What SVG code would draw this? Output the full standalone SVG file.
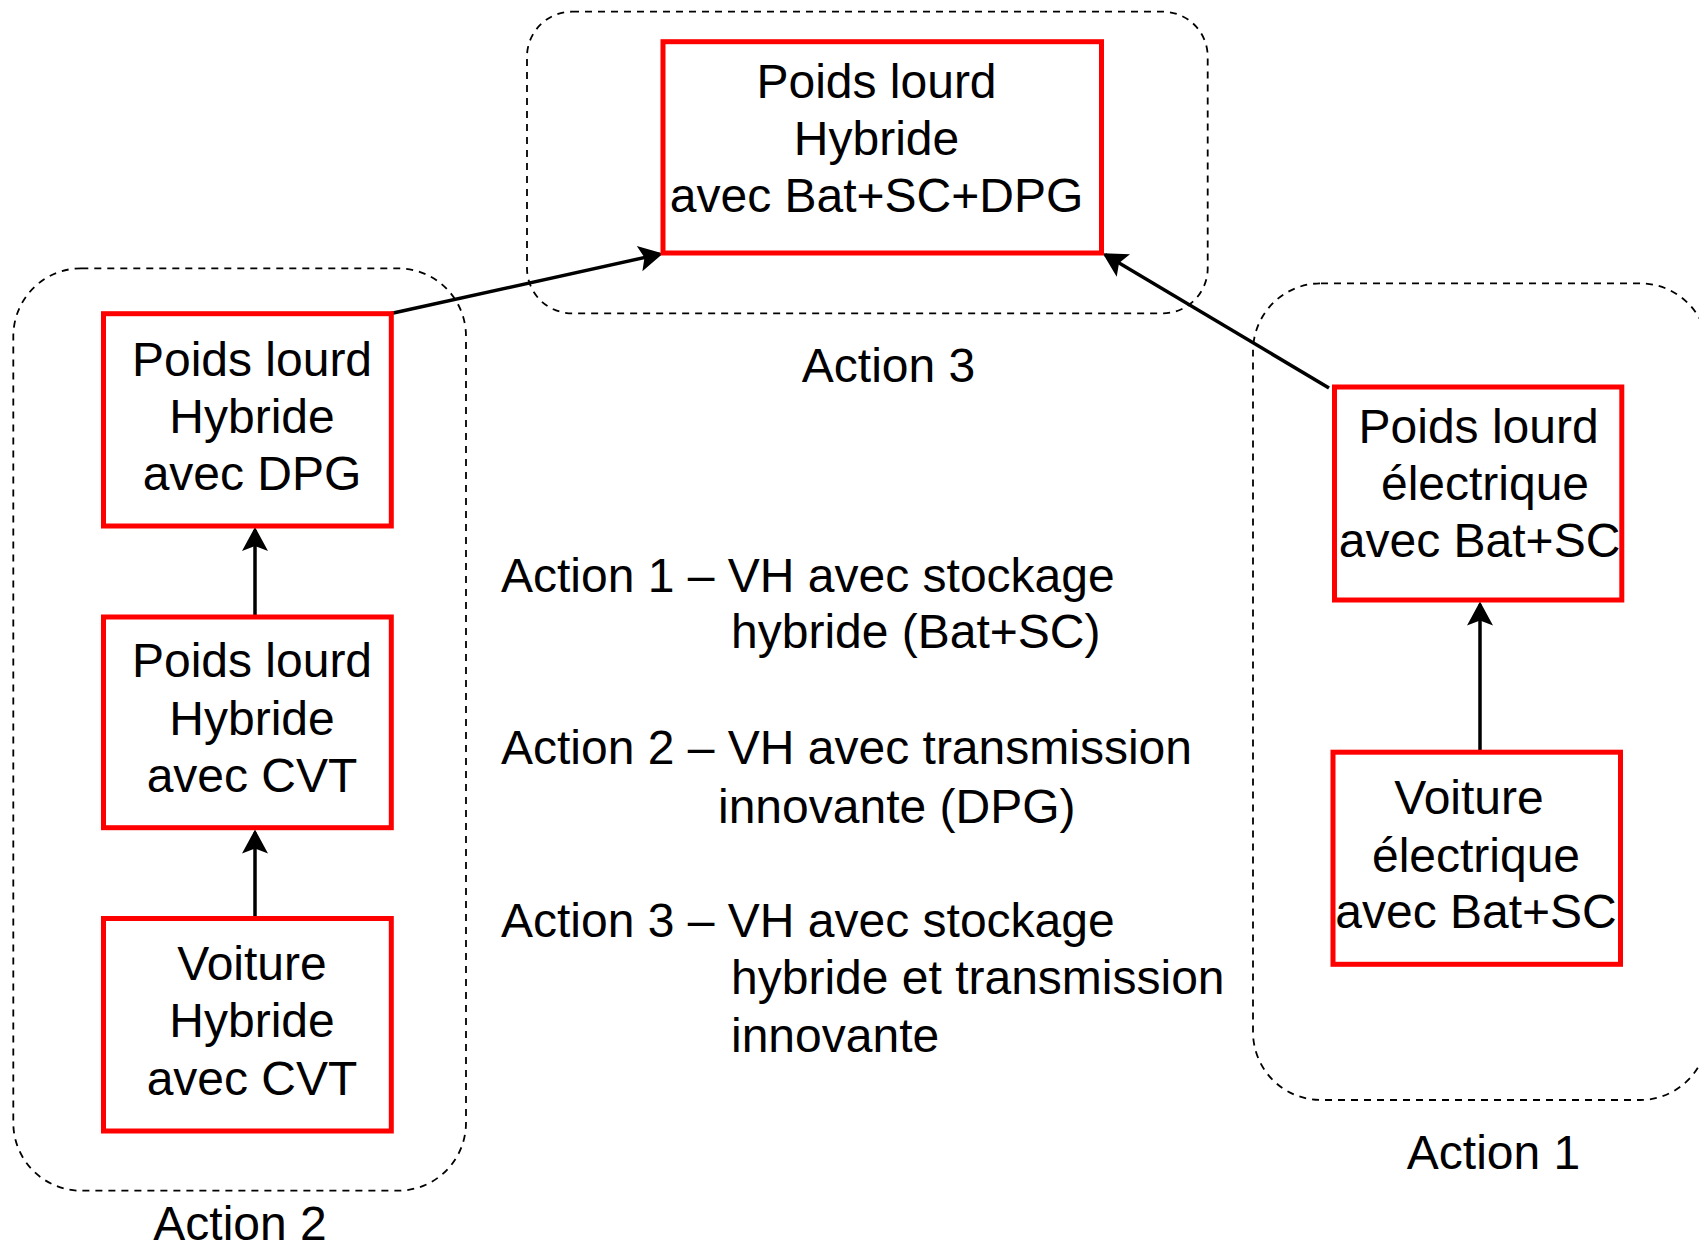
<svg xmlns="http://www.w3.org/2000/svg" width="1699" height="1249" viewBox="0 0 1699 1249">
  <style>
    text { font-family: "Liberation Sans", Arial, sans-serif; font-size: 48px; fill: #000; }
    .c { text-anchor: middle; }
    .grp { fill: none; stroke: #000; stroke-width: 1.8; stroke-dasharray: 7 6; }
    .node { fill: #fff; stroke: #ff0000; stroke-width: 5; }
    .edge { fill: none; stroke: #000; stroke-width: 3.5; marker-end: url(#arr); }
  </style>
  <defs>
    <marker id="arr" markerUnits="userSpaceOnUse" orient="auto" refX="0" refY="0" markerWidth="40" markerHeight="40" viewBox="-30 -20 40 40" overflow="visible">
      <path d="M3,0 L-21,-13 L-16,0 L-21,13 Z" fill="#000"/>
    </marker>
  </defs>
  <rect width="1699" height="1249" fill="#fff"/>

  <g id="group-action3">
    <rect class="grp" x="527" y="11.7" width="680.7" height="301.6" rx="45" ry="45"/>
    <text class="c" x="888.5" y="382">Action 3</text>
  </g>
  <g id="group-action2">
    <rect class="grp" x="13.3" y="268.3" width="452.7" height="922.4" rx="68" ry="68"/>
    <text class="c" x="240" y="1240">Action 2</text>
  </g>
  <g id="group-action1">
    <rect class="grp" x="1253" y="283.3" width="455" height="816.7" rx="68" ry="68"/>
    <text class="c" x="1493.5" y="1169">Action 1</text>
  </g>

  <g id="connectors">
    <path class="edge" d="M255,617 L255,530"/>
    <path class="edge" d="M255,918.5 L255,832.5"/>
    <path class="edge" d="M1480,752 L1480,604.5"/>
    <path class="edge" d="M391,313.5 L660.1,254.1"/>
    <path class="edge" d="M1329,388 L1105.3,254.8"/>
  </g>

  <g id="node-pl-hybride-bat-sc-dpg">
    <rect class="node" x="663" y="41.7" width="438.5" height="211.3"/>
    <text class="c" x="876.5" y="98.3">Poids lourd</text>
    <text class="c" x="876.5" y="155">Hybride</text>
    <text class="c" x="876.5" y="211.7">avec Bat+SC+DPG</text>
  </g>
  <g id="node-pl-hybride-dpg">
    <rect class="node" x="103.5" y="313.7" width="287.8" height="212.3"/>
    <text class="c" x="252" y="375.7">Poids lourd</text>
    <text class="c" x="252" y="432.8">Hybride</text>
    <text class="c" x="252" y="490">avec DPG</text>
  </g>
  <g id="node-pl-hybride-cvt">
    <rect class="node" x="103.5" y="617" width="287.8" height="210.7"/>
    <text class="c" x="252" y="677">Poids lourd</text>
    <text class="c" x="252" y="734.5">Hybride</text>
    <text class="c" x="252" y="791.7">avec CVT</text>
  </g>
  <g id="node-voiture-hybride-cvt">
    <rect class="node" x="103.5" y="918.5" width="287.8" height="212.5"/>
    <text class="c" x="252" y="980">Voiture</text>
    <text class="c" x="252" y="1037.3">Hybride</text>
    <text class="c" x="252" y="1094.5">avec CVT</text>
  </g>
  <g id="node-pl-electrique-bat-sc">
    <rect class="node" x="1334.5" y="387" width="287.3" height="213"/>
    <text class="c" x="1478.6" y="443">Poids lourd</text>
    <text class="c" x="1485" y="500">électrique</text>
    <text class="c" x="1479.6" y="557.3">avec Bat+SC</text>
  </g>
  <g id="node-voiture-electrique-bat-sc">
    <rect class="node" x="1333" y="752.2" width="287.5" height="212.1"/>
    <text class="c" x="1469" y="813.5">Voiture</text>
    <text class="c" x="1476" y="871.5">électrique</text>
    <text class="c" x="1476" y="928.3">avec Bat+SC</text>
  </g>

  <g id="legend">
    <text x="501" y="591.7">Action 1 – VH avec stockage</text>
    <text x="731" y="648.3">hybride (Bat+SC)</text>
    <text x="501" y="764">Action 2 – VH avec transmission</text>
    <text x="718" y="823.3">innovante (DPG)</text>
    <text x="501" y="937.3">Action 3 – VH avec stockage</text>
    <text x="731" y="994">hybride et transmission</text>
    <text x="731" y="1051.7">innovante</text>
  </g>
</svg>
